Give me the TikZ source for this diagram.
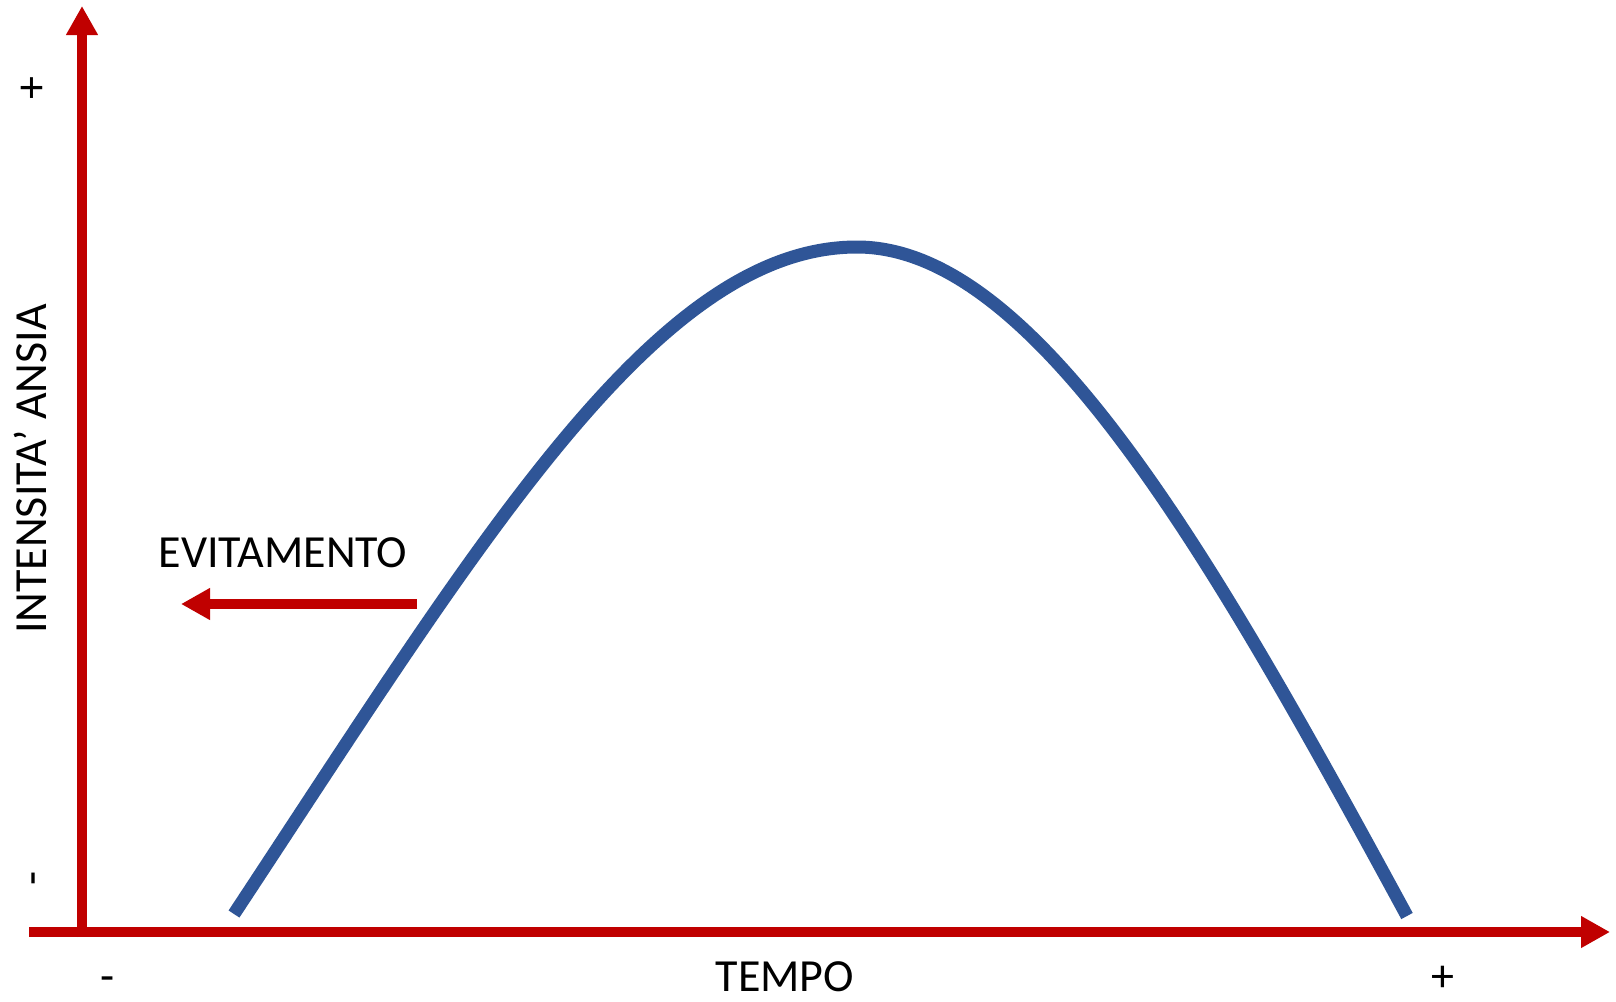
\documentclass[tikz,border=0pt]{standalone}
\usepackage{fontspec}
\setmainfont{Carlito}
\usetikzlibrary{arrows.meta}
\definecolor{axisred}{HTML}{C00000}
\definecolor{curveblue}{HTML}{2F5597}
\begin{document}
\begin{tikzpicture}[x=1pt,y=-1pt,
  redarrow/.style={draw=axisred, line width=10pt, -{Triangle[length=29pt,width=30pt,fill=axisred]}},
  lbl/.style={font=\fontsize{46}{55}\selectfont, inner sep=0pt, text=black},
  ylbl/.style={lbl, rotate=90, anchor=base},
  xlbl/.style={lbl, anchor=base},
  curve/.style={draw=curveblue, line width=13pt}]
\fill[white] (0,0) rectangle (1616,1001);
\useasboundingbox (0,0) rectangle (1616,1001);
% axes
\coordinate (xstart) at (29,932);
\coordinate (xend) at (1610,932);
\coordinate (ystart) at (82,937);
\coordinate (yend) at (82,6);
\draw[redarrow] (ystart) -- (yend);
\draw[redarrow] (xstart) -- (xend);
% curve
\coordinate (c0) at (234,914);
\coordinate (peak) at (857,247);
\coordinate (c1) at (1407,916);
\draw[curve] (c0) .. controls (482,538) and (657,247) .. (peak)
  .. controls (1037,247) and (1215,562) .. (c1);
% labels
\node[ylbl] (yplus) at (46,88) {+};
\node[ylbl] (yminus) at (46,878) {-};
\node[ylbl] (ytitle) at (46,469) {INTENSITA’ ANSIA};
\node[xlbl] (xminus) at (108,991) {-};
\node[xlbl] (xplus) at (1443,991) {+};
\node[xlbl] (xtitle) at (785,991) {TEMPO};
\node[xlbl] (evit) at (283,567) {EVITAMENTO};
% evitamento arrow
\coordinate (estart) at (417,604);
\coordinate (eend) at (181,604);
\draw[redarrow] (estart) -- (eend);
\end{tikzpicture}
\end{document}
